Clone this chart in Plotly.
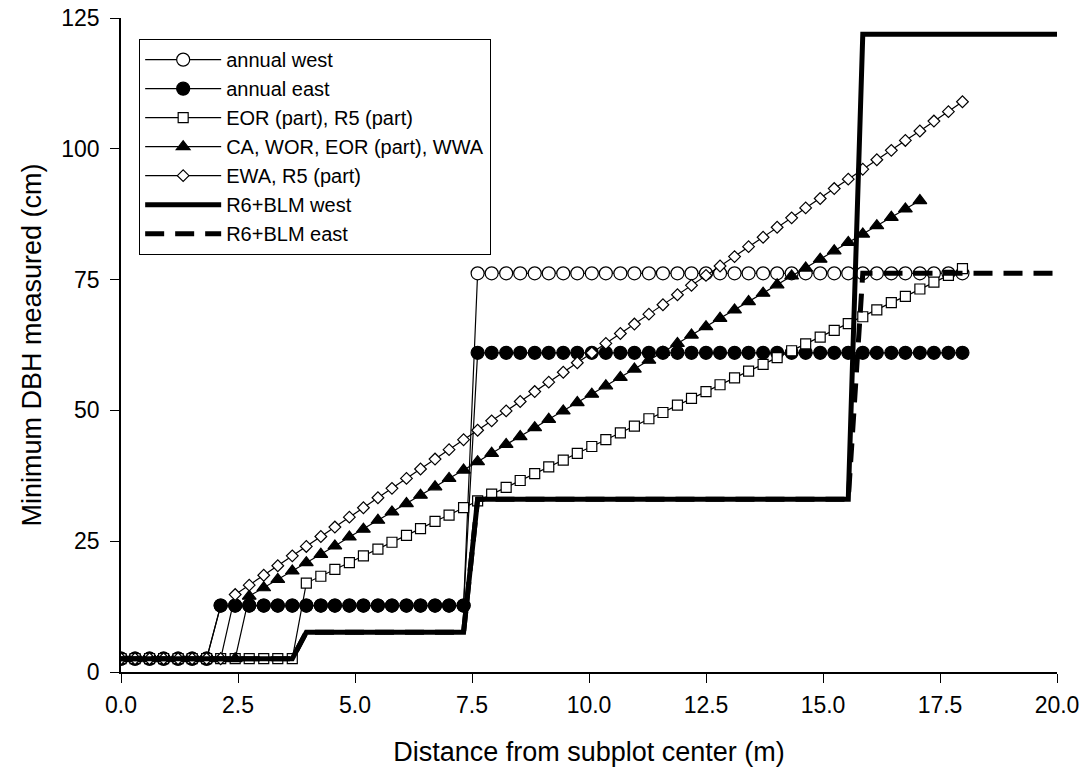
import plotly.graph_objects as go

# Distance from subplot center, 1-ft steps expressed in metres
distance_m = [
    0.00, 0.30, 0.61, 0.91, 1.22, 1.52, 1.83, 2.13, 2.44, 2.74,
    3.05, 3.35, 3.66, 3.96, 4.27, 4.57, 4.88, 5.18, 5.49, 5.79,
    6.10, 6.40, 6.71, 7.01, 7.32, 7.62, 7.92, 8.23, 8.53, 8.84,
    9.14, 9.45, 9.75, 10.06, 10.36, 10.67, 10.97, 11.28, 11.58, 11.89,
    12.19, 12.50, 12.80, 13.11, 13.41, 13.72, 14.02, 14.33, 14.63, 14.94,
    15.24, 15.54, 15.85, 16.15, 16.46, 16.76, 17.07, 17.37, 17.68, 17.98,
]

# Minimum DBH (cm) by protocol
annual_west = [2.54] * 7 + [12.7] * 18 + [76.2] * 35
annual_east = [2.54] * 7 + [12.7] * 18 + [61.0] * 35

eor_r5 = [2.54] * 13 + [
    17.0, 18.3, 19.6, 20.9, 22.2, 23.5, 24.8, 26.1, 27.4, 28.8,
    30.0, 31.4, 32.7, 34.0, 35.3, 36.6, 37.9, 39.2, 40.5, 41.8,
    43.1, 44.4, 45.7, 47.0, 48.4, 49.6, 51.0, 52.3, 53.6, 54.9,
    56.2, 57.5, 58.8, 60.1, 61.4, 62.7, 64.0, 65.3, 66.6, 67.9,
    69.2, 70.6, 71.8, 73.2, 74.5, 75.8, 77.1,
]

ca_wor_wwa = [2.54] * 9 + [
    14.5, 16.1, 17.7, 19.3, 20.9, 22.5, 24.1, 25.8, 27.3, 29.0,
    30.6, 32.2, 33.8, 35.4, 37.0, 38.6, 40.2, 41.8, 43.5, 45.0,
    46.7, 48.3, 49.9, 51.5, 53.1, 54.7, 56.3, 57.9, 59.6, 61.1,
    62.8, 64.4, 66.0, 67.6, 69.2, 70.8, 72.4, 74.0, 75.7, 77.2,
    78.9, 80.5, 82.1, 83.7, 85.3, 86.9, 88.5, 90.1,
]

ewa_r5 = [2.54] * 8 + [
    14.8, 16.6, 18.5, 20.3, 22.2, 24.0, 25.9, 27.7, 29.6, 31.4,
    33.3, 35.1, 37.0, 38.8, 40.7, 42.5, 44.4, 46.2, 48.0, 49.9,
    51.7, 53.6, 55.4, 57.3, 59.1, 61.0, 62.8, 64.7, 66.5, 68.4,
    70.2, 72.1, 73.9, 75.8, 77.6, 79.4, 81.3, 83.1, 85.0, 86.8,
    88.7, 90.5, 92.4, 94.2, 96.1, 97.9, 99.7, 101.6, 103.4, 105.3,
    107.1, 109.0,
]

r6_x = [0.0, 3.66, 3.96, 7.32, 7.62, 15.54, 15.85, 20.0]
r6_west = [2.54, 2.54, 7.62, 7.62, 33.0, 33.0, 121.9, 121.9]
r6_east = [2.54, 2.54, 7.62, 7.62, 33.0, 33.0, 76.2, 76.2]

x_ticks = [0, 2.5, 5, 7.5, 10, 12.5, 15, 17.5, 20]
y_ticks = [0, 25, 50, 75, 100, 125]

FONT = "Liberation Sans, Arial, sans-serif"
BLACK = "#000000"

fig = go.Figure()


def marker_trace(name, y, symbol, size, filled):
    n = len(y)
    fig.add_trace(go.Scatter(
        x=distance_m[:n], y=y, name=name, mode="lines+markers",
        line=dict(color=BLACK, width=1.2),
        marker=dict(symbol=symbol, size=size,
                    color=BLACK if filled else "white",
                    line=dict(color=BLACK, width=1.2)),
    ))


marker_trace("annual west", annual_west, "circle", 13, False)
marker_trace("annual east", annual_east, "circle", 13, True)
marker_trace("EOR (part), R5 (part)", eor_r5, "square", 10, False)
marker_trace("CA, WOR, EOR (part), WWA", ca_wor_wwa, "triangle-up", 12, True)
marker_trace("EWA, R5 (part)", ewa_r5, "diamond", 9, False)

fig.add_trace(go.Scatter(
    x=r6_x, y=r6_west, name="R6+BLM west", mode="lines",
    line=dict(color=BLACK, width=5),
))
fig.add_trace(go.Scatter(
    x=r6_x, y=r6_east, name="R6+BLM east", mode="lines",
    line=dict(color=BLACK, width=5, dash="19px,11px"),
))

axis_common = dict(
    showline=True, linecolor=BLACK, linewidth=1.5, showgrid=False,
    zeroline=False, ticklen=9, tickwidth=1.2, tickcolor=BLACK,
    automargin=False,
)

fig.update_layout(
    width=1089, height=771,
    margin=dict(l=121, r=32, t=18, b=99),
    paper_bgcolor="white", plot_bgcolor="white",
    font=dict(family=FONT, size=23, color=BLACK),
    showlegend=True,
    legend=dict(
        x=0.0192, y=0.968, xanchor="left", yanchor="top",
        bordercolor=BLACK, borderwidth=1.2, bgcolor="white",
        font=dict(family=FONT, size=20, color=BLACK),
        itemwidth=76, tracegroupgap=0,
    ),
    xaxis=dict(
        range=[0, 20], tickvals=x_ticks, tickformat=".1f", ticks="outside",
        ticklabelstandoff=3,
        title=dict(text="Distance from subplot center (m)",
                   font=dict(size=27), standoff=25),
        **axis_common,
    ),
    yaxis=dict(
        range=[0, 125], tickvals=y_ticks, ticks="outside",
        ticklabelstandoff=6,
        title=dict(text="Minimum DBH measured (cm)",
                   font=dict(size=27), standoff=12),
        **axis_common,
    ),
    xaxis2=dict(
        range=[0, 20], tickvals=x_ticks, ticks="inside", side="top",
        overlaying="x", showticklabels=False, **axis_common,
    ),
    yaxis2=dict(
        range=[0, 125], tickvals=y_ticks, ticks="inside", side="right",
        overlaying="y", showticklabels=False, **axis_common,
    ),
)

fig.write_html("out.html")
